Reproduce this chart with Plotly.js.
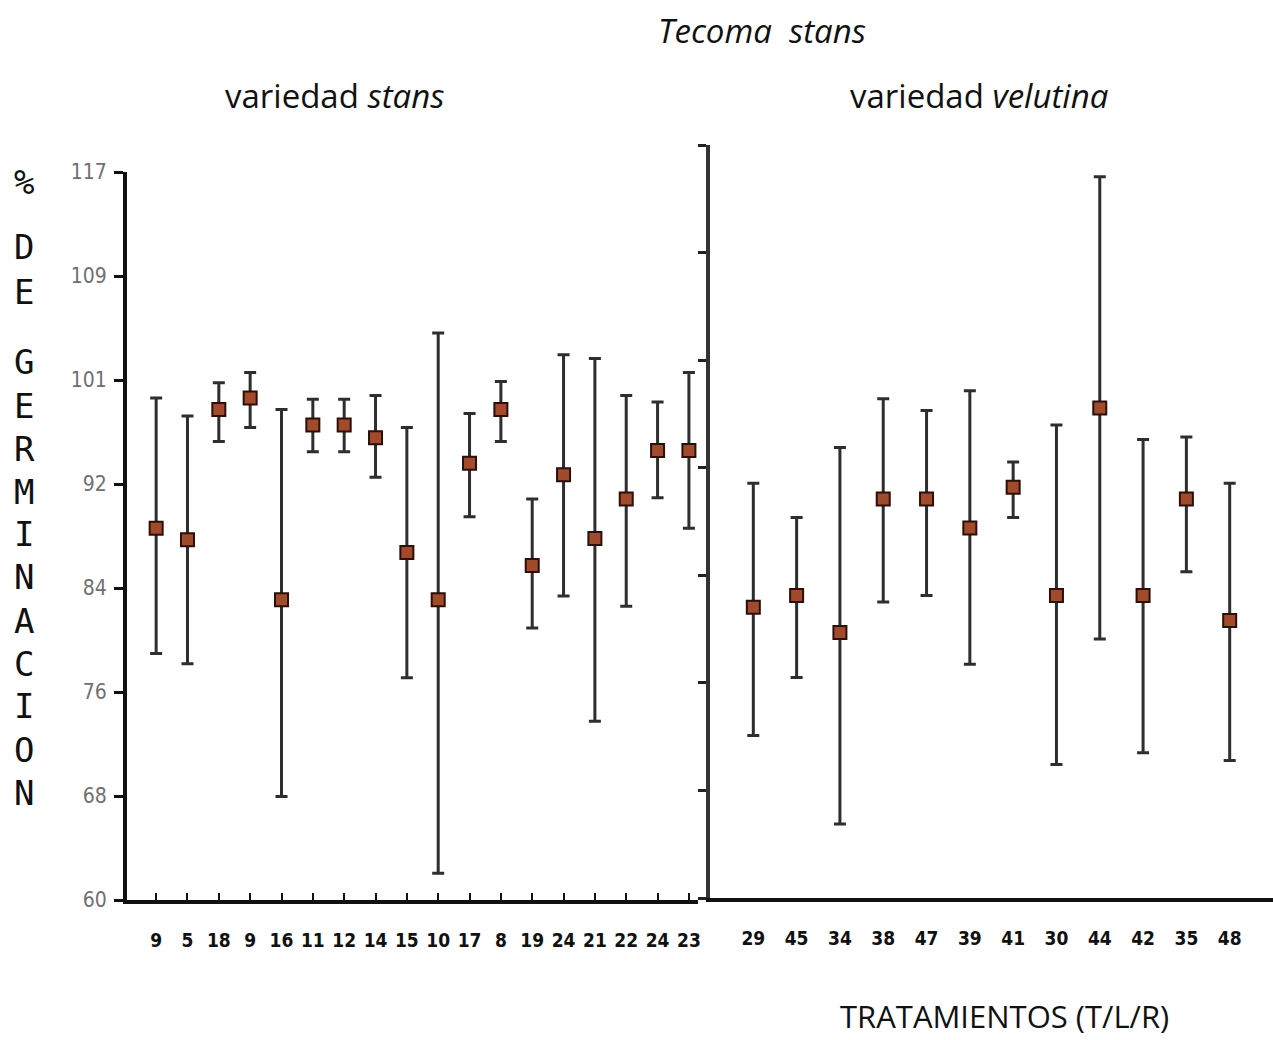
<!DOCTYPE html>
<html>
<head>
<meta charset="utf-8">
<script src="https://cdn.plot.ly/plotly-3.0.1.min.js"></script>
<style>html,body{margin:0;padding:0;background:#fff;}#chart{width:1273px;height:1040px;}</style>
</head>
<body>
<div id="chart"></div>
<script>
// ---- data: variedad stans ----
const stansLabels = ["9","5","18","9","16","11","12","14","15","10","17","8","19","24","21","22","24","23"];
const stansMean   = [89.1, 88.2, 98.4, 99.3, 83.5, 97.2, 97.2, 96.2, 87.2, 83.5, 94.2, 98.4, 86.2, 93.3, 88.3, 91.4, 95.2, 95.2];
const stansUpper  = [99.3, 97.9, 100.5, 101.3, 98.4, 99.2, 99.2, 99.5, 97.0, 104.4, 98.1, 100.6, 91.4, 102.7, 102.4, 99.5, 99.0, 101.3];
const stansLower  = [79.3, 78.5, 95.9, 97.0, 68.1, 95.1, 95.1, 93.1, 77.4, 62.1, 90.0, 95.9, 81.3, 83.8, 74.0, 83.0, 91.5, 89.1];

// ---- data: variedad velutina ----
const velLabels = ["29","45","34","38","47","39","41","30","44","42","35","48"];
const velMean   = [82.0, 82.9, 80.1, 90.2, 90.2, 88.0, 91.1, 82.9, 97.1, 82.9, 90.2, 81.0];
const velUpper  = [91.4, 88.8, 94.1, 97.8, 96.9, 98.4, 93.0, 95.8, 114.6, 94.7, 94.9, 91.4];
const velLower  = [72.3, 76.7, 65.6, 82.4, 82.9, 77.7, 88.8, 70.1, 79.6, 71.0, 84.7, 70.4];

// ---- y tick labels (left panel) ----
const yTickText = ["60","68","76","84","92","101","109","117"];
const yMin = 60, yMax = 117;

const idx = a => a.map((_, i) => i);
const up  = (u, m) => u.map((v, i) => +(v - m[i]).toFixed(2));
const dn  = (l, m) => l.map((v, i) => +(m[i] - v).toFixed(2));

const markerStyle = {symbol: 'square', size: 13, color: '#a24b2c', line: {color: '#2b0f08', width: 2}};
const errStyle = {type: 'data', symmetric: false, color: '#2e2e2e', thickness: 3, width: 6};

const traces = [
  {
    x: idx(stansLabels), y: stansMean, type: 'scatter', mode: 'markers',
    xaxis: 'x', yaxis: 'y', marker: markerStyle,
    error_y: Object.assign({array: up(stansUpper, stansMean), arrayminus: dn(stansLower, stansMean)}, errStyle),
    hoverinfo: 'y', showlegend: false
  },
  {
    x: idx(velLabels), y: velMean, type: 'scatter', mode: 'markers',
    xaxis: 'x2', yaxis: 'y2', marker: markerStyle,
    error_y: Object.assign({array: up(velUpper, velMean), arrayminus: dn(velLower, velMean)}, errStyle),
    hoverinfo: 'y', showlegend: false
  }
];

const W = 1273, H = 1040;
const px = v => v / W;
const py = v => 1 - v / H;

const yTickVals = yTickText.map((_, i) => yMin + i * (yMax - yMin) / (yTickText.length - 1));

const narrow = '"Liberation Sans Narrow", "DejaVu Sans Condensed", "Liberation Sans", Arial, sans-serif';
const tickFont = {family: narrow, size: 19, color: '#111', weight: 'bold'};
const titleFamily = '"Open Sans", Lato, sans-serif';

// vertical y-axis title letters
const yTitleLetters = ["%","D","E","G","E","R","M","I","N","A","C","I","O","N"];
const yTitlePix = [182, 247, 292, 362, 406, 449, 492, 534, 577, 621, 664, 706, 750, 793];
const annotations = yTitleLetters.map((ch, i) => ({
  text: ch, xref: 'paper', yref: 'paper', x: px(24), y: py(yTitlePix[i]),
  xanchor: 'center', yanchor: 'middle', showarrow: false,
  font: {family: '"DejaVu Sans Mono", monospace', size: 34, color: '#111'}
}));

annotations.push(
  {text: '<i>Tecoma  stans</i>', xref: 'paper', yref: 'paper', x: px(762), y: py(30),
   xanchor: 'center', yanchor: 'middle', showarrow: false,
   font: {family: titleFamily, size: 33, color: '#111'}},
  {text: 'variedad <i>stans</i>', xref: 'paper', yref: 'paper', x: px(334), y: py(95),
   xanchor: 'center', yanchor: 'middle', showarrow: false,
   font: {family: titleFamily, size: 33, color: '#111'}},
  {text: 'variedad <i>velutina</i>', xref: 'paper', yref: 'paper', x: px(979), y: py(95),
   xanchor: 'center', yanchor: 'middle', showarrow: false,
   font: {family: titleFamily, size: 33, color: '#111'}},
  {text: 'TRATAMIENTOS (T/L/R)', xref: 'paper', yref: 'paper', x: px(1004), y: py(1016),
   xanchor: 'center', yanchor: 'middle', showarrow: false, borderpad: 0,
   font: {family: titleFamily, size: 31, color: '#111'}}
);

const layout = {
  width: W, height: H,
  margin: {l: 0, r: 0, t: 0, b: 0},
  paper_bgcolor: '#fff', plot_bgcolor: '#fff',
  showlegend: false,
  xaxis: {
    domain: [px(127), px(698)], range: [-0.93, 17.29],
    tickvals: idx(stansLabels), ticktext: stansLabels,
    ticks: 'inside', ticklen: 7, tickwidth: 2, tickcolor: '#111',
    showline: true, linecolor: '#111', linewidth: 4,
    showgrid: false, zeroline: false, tickfont: tickFont,
    ticklabelstandoff: 20, anchor: 'y'
  },
  yaxis: {
    domain: [py(900), py(172)], range: [yMin, yMax],
    tickvals: yTickVals, ticktext: yTickText,
    ticks: 'outside', ticklen: 9, tickwidth: 3, tickcolor: '#111',
    showline: true, linecolor: '#111', linewidth: 4,
    showgrid: false, zeroline: false,
    tickfont: {family: narrow, size: 21, color: '#707070'},
    ticklabelstandoff: 3,
    anchor: 'x'
  },
  xaxis2: {
    domain: [px(710), 1], range: [-1.0, 12.0],
    tickvals: idx(velLabels), ticktext: velLabels,
    ticks: '', showline: true, linecolor: '#111', linewidth: 4,
    showgrid: false, zeroline: false, tickfont: tickFont,
    ticklabelstandoff: 20, anchor: 'y2'
  },
  yaxis2: {
    domain: [py(898), py(145)], range: [yMin, yMax],
    tickvals: yTickVals, showticklabels: false,
    ticks: 'outside', ticklen: 8, tickwidth: 3, tickcolor: '#222',
    showline: true, linecolor: '#333', linewidth: 4,
    showgrid: false, zeroline: false, anchor: 'x2'
  },
  annotations: annotations
};

Plotly.newPlot('chart', traces, layout, {staticPlot: true, displayModeBar: false});
</script>
</body>
</html>
